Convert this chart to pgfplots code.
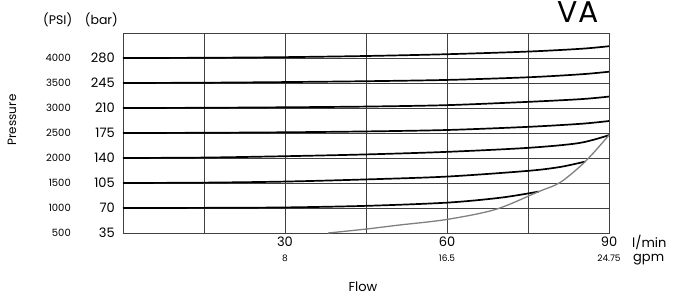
\documentclass[border=0pt]{standalone}
\usepackage{fontspec}
\setmainfont{Poppins}
\usepackage{pgfplots}
\pgfplotsset{compat=1.18}
\newcommand{\sm}{\fontsize{9}{10}\selectfont}
\begin{document}
\begin{tikzpicture}
\useasboundingbox (-123pt,-66pt) rectangle (553pt,233pt);
\begin{axis}[at={(0pt,0pt)}, anchor=south west, scale only axis,
  width=486pt, height=200pt,
  xmin=0, xmax=90, ymin=35, ymax=315,
  xtick={30,60,90}, minor xtick={15,45,75},
  ytick={35,70,105,140,175,210,245,280},
  xmajorgrids, xminorgrids, ymajorgrids,
  grid style={black!75, line width=0.7pt},
  minor grid style={black!75, line width=0.7pt},
  major tick length=0pt, minor tick length=0pt,
  axis line style={black!75, line width=0.8pt},
  tick label style={font=\fontsize{13}{13}\selectfont},
  xticklabels={{30\\[2pt]{\sm 8}},{60\\[2pt]{\sm 16.5}},{90\\[2pt]{\sm 24.75}}},
  xticklabel style={align=center, inner sep=0pt, yshift=-4pt},
  yticklabels={35,70,105,140,175,210,245,280},
  yticklabel style={inner sep=0pt, xshift=-8pt},
  /pgf/number format/assume math mode=true,
  clip=false,
]
\addplot[black, line width=1.7pt, smooth] coordinates {(0,280) (15,280.3) (30,281.2) (45,282.8) (60,285.3) (75,289) (85,293) (90,296.5)};
\addplot[black, line width=1.7pt, smooth] coordinates {(0,245) (15,245.4) (30,246.3) (45,247.5) (60,249.3) (75,253) (85,257.3) (90,260.8)};
\addplot[black, line width=1.7pt, smooth] coordinates {(0,210) (15,210.3) (30,211) (45,212) (60,214) (75,218.6) (85,222.5) (90,226)};
\addplot[black, line width=1.7pt, smooth] coordinates {(0,175) (15,175.3) (30,176) (45,177.2) (60,179.2) (75,183.6) (85,188) (90,191.8)};
\addplot[black, line width=1.7pt, smooth] coordinates {(0,140) (15,140.6) (30,142.5) (45,145) (60,148.6) (75,154.2) (84.5,161) (90,172)};
\addplot[black, line width=1.7pt, smooth] coordinates {(0,105) (15,105.5) (30,107) (45,110) (60,114) (75,122) (81,127.5) (85.6,135)};
\addplot[black, line width=1.7pt, smooth] coordinates {(0,70) (15,70.2) (30,70.8) (45,73) (60,77.5) (70,84.5) (77,93)};
\addplot[black!50, line width=1.3pt, smooth] coordinates {(38,35) (45,40.5) (51,46) (60,54) (69,68) (77,93) (81,106) (85.6,135) (90,172)};
\end{axis}
\foreach \p [count=\i from 0] in {500,1000,1500,2000,2500,3000,3500,4000}
  \node[font=\fontsize{10}{10}\selectfont, anchor=east, inner sep=0pt] at (-52pt,{25*\i*1pt}) {\p};
\node[font=\fontsize{12}{12}\selectfont, rotate=90] at (-111pt,113pt) {Pressure};
\node[font=\fontsize{12.5}{12}\selectfont, anchor=west, inner sep=0pt] at (-80pt,213pt) {(PSI)};
\node[font=\fontsize{12.5}{12}\selectfont, anchor=east, inner sep=0pt] at (-5pt,213pt) {(bar)};
\node[font=\fontsize{13}{12}\selectfont, anchor=base, inner sep=0pt] at (240pt,-59pt) {Flow};
\node[font=\fontsize{13}{12}\selectfont, anchor=base west, inner sep=0pt] at (509pt,-15pt) {l/min};
\node[font=\fontsize{13}{12}\selectfont, anchor=base west, inner sep=0pt] at (510pt,-29pt) {gpm};
\node[font=\fontsize{30}{32}\selectfont] at (455pt,221pt) {VA};
\end{tikzpicture}
\end{document}
